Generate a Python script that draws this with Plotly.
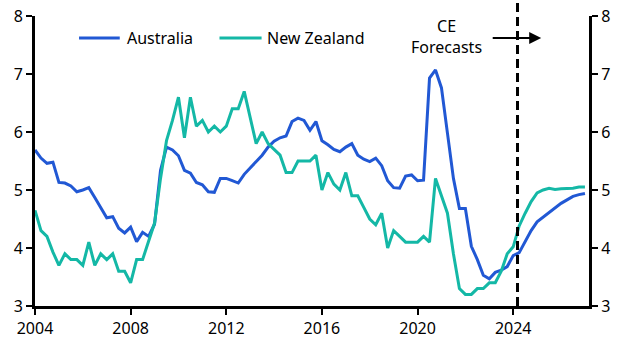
import plotly.graph_objects as go

# Quarterly, first point at 2004.0, step 0.25 years
start_year = 2004.0
australia = [5.69, 5.55, 5.46, 5.48, 5.13, 5.12, 5.07, 4.97, 5.00, 5.04, 4.87, 4.70,
             4.52, 4.54, 4.34, 4.26, 4.36, 4.11, 4.27, 4.20, 4.41, 5.34, 5.74, 5.69,
             5.59, 5.34, 5.29, 5.13, 5.09, 4.97, 4.96, 5.20, 5.20, 5.16, 5.12, 5.27,
             5.38, 5.48, 5.60, 5.74, 5.84, 5.90, 5.93, 6.18, 6.24, 6.20, 6.03, 6.18,
             5.85, 5.78, 5.70, 5.66, 5.74, 5.80, 5.60, 5.53, 5.49, 5.55, 5.42, 5.16,
             5.04, 5.03, 5.24, 5.26, 5.16, 5.17, 6.93, 7.07, 6.76, 5.98, 5.20, 4.68,
             4.68, 4.03, 3.80, 3.53, 3.47, 3.58, 3.62, 3.68, 3.87, 3.92, 4.12, 4.30,
             4.45, 4.53, 4.61, 4.70, 4.77, 4.83, 4.89, 4.92, 4.94]
new_zealand = [4.65, 4.30, 4.20, 3.93, 3.70, 3.90, 3.80, 3.80, 3.70, 4.10, 3.70, 3.90,
               3.80, 3.90, 3.60, 3.60, 3.40, 3.80, 3.80, 4.10, 4.43, 5.20, 5.85, 6.20,
               6.60, 5.90, 6.60, 6.10, 6.20, 6.00, 6.10, 6.00, 6.10, 6.40, 6.40, 6.70,
               6.25, 5.80, 6.00, 5.80, 5.70, 5.60, 5.30, 5.30, 5.50, 5.50, 5.50, 5.60,
               5.00, 5.30, 5.10, 5.00, 5.30, 4.90, 4.90, 4.70, 4.50, 4.40, 4.60, 4.00,
               4.30, 4.20, 4.10, 4.10, 4.10, 4.20, 4.10, 5.20, 4.90, 4.60, 3.90, 3.30,
               3.20, 3.20, 3.30, 3.30, 3.40, 3.40, 3.60, 3.90, 4.02, 4.38, 4.60, 4.80,
               4.95, 5.00, 5.03, 5.01, 5.02, 5.02, 5.03, 5.05, 5.05]
series_names = ["Australia", "New Zealand"]
series_colors = ["#2158D4", "#14B8A6"]
x_ticks = [2004, 2008, 2012, 2016, 2020, 2024]
y_ticks = [3, 4, 5, 6, 7, 8]
forecast_start = 2024.18

dates = [start_year + 0.25 * i for i in range(len(australia))]

FONT = "Noto Sans"
fig = go.Figure()
for name, vals, col in zip(series_names, [australia, new_zealand], series_colors):
    fig.add_trace(go.Scatter(x=dates, y=vals, mode="lines", name=name,
                             line=dict(color=col, width=3), showlegend=False))
# invisible trace to activate right axis
fig.add_trace(go.Scatter(x=[dates[0]], y=[australia[0]], yaxis="y2", mode="lines",
                         line=dict(width=0), showlegend=False, hoverinfo="skip"))

axis_common = dict(range=[3, 8], tickvals=y_ticks, ticks="outside", ticklen=6,
                   tickwidth=2, tickcolor="black", showline=True, linewidth=3,
                   linecolor="black", showgrid=False, zeroline=False, automargin=False,
                   tickfont=dict(size=16, color="black", family=FONT))
fig.update_layout(
    template="none",
    width=629, height=355,
    margin=dict(l=35, r=40, t=16, b=49, autoexpand=False),
    plot_bgcolor="white", paper_bgcolor="white",
    font=dict(family=FONT, size=16, color="black"),
    xaxis=dict(range=[2004, 2027.17], tickvals=x_ticks, ticks="outside", ticklen=6,
               tickwidth=2, tickcolor="black", showline=True, linewidth=3,
               linecolor="black", showgrid=False, zeroline=False, automargin=False,
               tickfont=dict(size=16, color="black", family=FONT)),
    yaxis=dict(side="left", **axis_common),
    yaxis2=dict(side="right", overlaying="y", **axis_common),
    showlegend=False,
)

# forecast divider
fig.add_shape(type="line", xref="x", yref="paper", x0=forecast_start, x1=forecast_start,
              y0=0, y1=1.055, line=dict(color="black", width=3, dash="9px,5px"))
fig.add_annotation(x=2021.2, y=7.64, xref="x", yref="y", text="CE<br>Forecasts",
                   showarrow=False, font=dict(size=16, family=FONT, color="black"))
fig.add_annotation(x=2025.17, y=7.62, ax=2023.08, ay=7.62, xref="x", yref="y",
                   axref="x", ayref="y", text="", showarrow=True, arrowhead=2,
                   arrowsize=1.2, arrowwidth=2, arrowcolor="black")

# manual legend
leg_y = 0.924
leg_items = [(0.0795, 0.153, 0.163), (0.333, 0.409, 0.415)]
for (x0, x1, xt), name, col in zip(leg_items, series_names, series_colors):
    fig.add_shape(type="line", xref="paper", yref="paper", x0=x0, x1=x1, y0=leg_y, y1=leg_y,
                  line=dict(color=col, width=3))
    fig.add_annotation(x=xt, y=leg_y, xref="paper", yref="paper", text=name,
                       showarrow=False, xanchor="left", yanchor="middle",
                       font=dict(size=16, family=FONT, color="black"))

fig.write_html("out.html", config={"displayModeBar": False},
               post_script="document.body.style.margin='0';document.body.style.overflow='hidden';")
